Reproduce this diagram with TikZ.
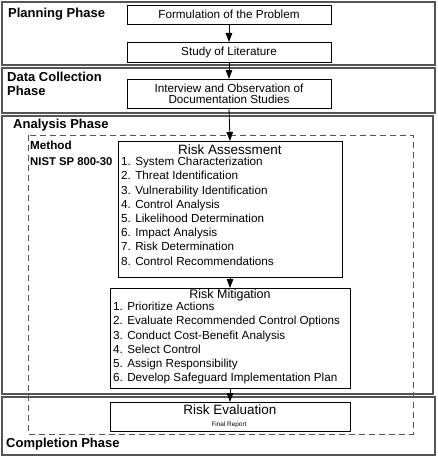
\documentclass[tikz,border=0pt]{standalone}
\usepackage{fontspec}
\setmainfont{Liberation Sans}
\usetikzlibrary{arrows.meta}
\definecolor{framecol}{HTML}{555555}
\begin{document}
\begin{tikzpicture}[x=1pt,y=-1pt,
  phaseframe/.style={draw=framecol,line width=1.3pt},
  stepbox/.style={draw=black,line width=0.8pt,fill=white},
  phaselabel/.style={anchor=west,inner sep=0,font=\fontsize{13}{15}\selectfont\bfseries},
  bodytext/.style={inner sep=0,font=\fontsize{11.7}{14}\selectfont},
  listtext/.style={anchor=north west,inner sep=0,align=left,font=\fontsize{11.7}{14.2}\selectfont},
  titletext/.style={inner sep=0,font=\fontsize{13.5}{15}\selectfont},
  arr/.style={-{Triangle[length=9pt,width=6.5pt]},line width=0.8pt},
  conn/.style={line width=0.8pt}]
\useasboundingbox (0,0) rectangle (438,460);
\fill[white] (0,0) rectangle (438,460);
% phase frames
\draw[phaseframe] (2,2) rectangle (435,65);
\draw[phaseframe] (2,68) rectangle (435,113);
\draw[phaseframe] (2,116) rectangle (433,394);
\draw[phaseframe] (2,397) rectangle (435,455);
% dashed method frame
\draw[draw=framecol,line width=1pt,dash pattern=on 6pt off 4pt] (28,135) rectangle (413,434);
% phase labels
\node[phaselabel] (lplan) at (8,14) {Planning Phase};
\node[phaselabel] (ldata1) at (7,77) {Data Collection};
\node[phaselabel] (ldata2) at (7,91) {Phase};
\node[phaselabel] (lanal) at (13,125) {Analysis Phase};
\node[phaselabel,font=\fontsize{11.7}{14}\selectfont\bfseries] (lmeth1) at (30,145) {Method};
\node[phaselabel,font=\fontsize{11.3}{14}\selectfont\bfseries] (lmeth2) at (30,162) {NIST SP 800-30};
\node[phaselabel] (lcomp) at (6,444) {Completion Phase};
% boxes
\draw[stepbox] (127,5) rectangle (331,24);
\node[bodytext] (formul) at (229,14.5) {Formulation of the Problem};
\coordinate (formulB) at (229,24);
\draw[stepbox] (127,42) rectangle (331,62);
\node[bodytext] (study) at (229,52) {Study of Literature};
\coordinate (studyT) at (229,42);
\coordinate (studyB) at (229,62);
\draw[stepbox] (127,79) rectangle (331,108);
\node[bodytext,align=center,font=\fontsize{11.7}{11}\selectfont] (interv) at (229,93.5) {Interview and Observation of\\Documentation Studies};
\coordinate (intervT) at (229,79);
\coordinate (intervB) at (229,108);
% risk assessment
\draw[stepbox] (118,141) rectangle (342,277);
\node[titletext] (ra) at (230,150) {Risk Assessment};
\node[listtext] (ralist) at (121,157) {1. System Characterization\\2. Threat Identification\\3. Vulnerability Identification\\4. Control Analysis\\5. Likelihood Determination\\6. Impact Analysis\\7. Risk Determination\\8. Control Recommendations};
\coordinate (raT) at (230,141);
\coordinate (raB) at (230,277);
% risk mitigation
\draw[stepbox] (110,288) rectangle (350,388);
\node[bodytext,font=\fontsize{12.5}{14}\selectfont] (rm) at (230,295.5) {Risk Mitigation};
\node[listtext] (rmlist) at (113,302) {1. Prioritize Actions\\2. Evaluate Recommended Control Options\\3. Conduct Cost-Benefit Analysis\\4. Select Control\\5. Assign Responsibility\\6. Develop Safeguard Implementation Plan};
\coordinate (rmT) at (230,288);
\coordinate (rmB) at (230,388);
% risk evaluation
\draw[stepbox] (110,402) rectangle (350,431);
\node[titletext] (re) at (230,410) {Risk Evaluation};
\node[inner sep=0,font=\fontsize{6.4}{8}\selectfont] (fr) at (229,424.5) {Final Report};
\coordinate (reT) at (230,402);
% connectors
\draw[arr] (formulB) -- (studyT);
\draw[arr] (studyB) -- (intervT);
\draw[arr] (intervB) -- (raT);
\draw[arr] (raB) -- (rmT);
\draw[arr] (rmB) -- (reT);
\end{tikzpicture}
\end{document}
